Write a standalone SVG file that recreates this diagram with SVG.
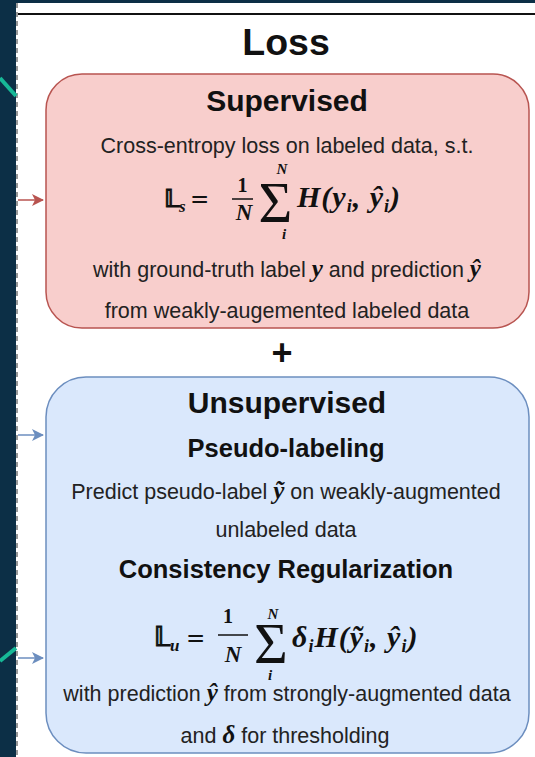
<svg xmlns="http://www.w3.org/2000/svg" width="535" height="757" viewBox="0 0 535 757">
<style>
.t{font-family:"Liberation Sans",Arial,sans-serif;fill:#222;text-anchor:middle;font-size:21.5px}
.b{font-weight:bold;fill:#111}
.m{font-family:"Liberation Serif","Times New Roman",serif;font-style:italic;font-weight:bold;fill:#111}
.r{font-family:"Liberation Serif","Times New Roman",serif;fill:#111}
.bb{font-family:"DejaVu Sans",sans-serif;font-weight:bold;fill:#111;stroke:#111;stroke-width:0.9px}
.eq{font-family:"DejaVu Sans",sans-serif;fill:#111}
.c{text-anchor:middle}
</style>
<defs>
<marker id="ar" markerWidth="12" markerHeight="12" refX="11" refY="6" orient="auto" markerUnits="userSpaceOnUse"><path d="M0,0 L12,6 L0,12 L3,6 Z" fill="#b85450"/></marker>
<marker id="ab" markerWidth="12" markerHeight="12" refX="11" refY="6" orient="auto" markerUnits="userSpaceOnUse"><path d="M0,0 L12,6 L0,12 L3,6 Z" fill="#6c8ebf"/></marker>
</defs>
<rect x="0" y="0" width="535" height="757" fill="#0c2f46"/>
<rect x="16" y="3" width="519" height="754" fill="#ffffff"/>
<line x1="17" y1="14" x2="535" y2="14" stroke="#111" stroke-width="2"/>
<line x1="17" y1="3" x2="17" y2="757" stroke="#999" stroke-width="2" stroke-dasharray="5,4"/>
<g id="connectors">
<line x1="0" y1="78" x2="16" y2="96" stroke="#17b897" stroke-width="4"/>
<line x1="0" y1="661" x2="16" y2="648" stroke="#17b897" stroke-width="4"/>
<line x1="18" y1="200" x2="43" y2="200" stroke="#b85450" stroke-width="1.5" marker-end="url(#ar)"/>
<line x1="18" y1="435" x2="43" y2="435" stroke="#6c8ebf" stroke-width="1.5" marker-end="url(#ab)"/>
<line x1="18" y1="658" x2="43" y2="658" stroke="#6c8ebf" stroke-width="1.5" marker-end="url(#ab)"/>
</g>
<g id="title"><text class="t b" x="286" y="55" style="font-size:37.5px">Loss</text></g>
<g id="supervised">
<rect x="46" y="74" width="483" height="254" rx="36" ry="36" fill="#f8cecc" stroke="#b85450" stroke-width="1.5"/>
<text class="t b" x="287" y="111" style="font-size:30px">Supervised</text>
<text class="t" x="287" y="153">Cross-entropy loss on labeled data, s.t.</text>
<text class="bb" x="164" y="207" font-size="25">𝕃</text>
<text class="m" x="179" y="212" font-size="17">s</text>
<text class="eq" x="190" y="207" font-size="23">=</text>
<text class="r c" x="242.5" y="192" font-size="20" font-weight="bold">1</text>
<line x1="232" y1="199" x2="253" y2="199" stroke="#111" stroke-width="1.5"/>
<text class="m c" x="244" y="220" font-size="23">N</text>
<text class="r c" x="275.5" y="222" font-size="58">Σ</text>
<text class="m c" x="282" y="174" font-size="15">N</text>
<text class="m c" x="284" y="239" font-size="15">i</text>
<text class="m" x="297" y="207" font-size="30" letter-spacing="1">H(y<tspan font-size="18" dy="5">i</tspan><tspan dy="-5">, ŷ</tspan><tspan font-size="18" dy="5">i</tspan><tspan dy="-5">)</tspan></text>
<text class="t" x="287" y="277">with ground-truth label <tspan class="m" font-size="25">y</tspan> and prediction <tspan class="m" font-size="25">ŷ</tspan></text>
<text class="t" x="287" y="318">from weakly-augemented labeled data</text>
</g>
<g id="plus"><text class="t b" x="282" y="365" style="font-size:36px">+</text></g>
<g id="unsupervised">
<rect x="46" y="377" width="483" height="376" rx="40" ry="40" fill="#dae8fc" stroke="#6c8ebf" stroke-width="1.5"/>
<text class="t b" x="287" y="413" style="font-size:30px">Unsupervised</text>
<text class="t b" x="286" y="457" style="font-size:25.5px">Pseudo-labeling</text>
<text class="t" x="286" y="499">Predict pseudo-label <tspan class="m" font-size="25">ỹ</tspan> on weakly-augmented</text>
<text class="t" x="286" y="537">unlabeled data</text>
<text class="t b" x="286" y="578" style="font-size:25.5px">Consistency Regularization</text>
<text class="bb" x="154" y="646" font-size="26">𝕃</text>
<text class="m" x="170" y="651" font-size="17">u</text>
<text class="eq" x="186" y="646" font-size="23">=</text>
<text class="r c" x="228" y="623" font-size="20" font-weight="bold">1</text>
<line x1="218" y1="635" x2="248" y2="635" stroke="#111" stroke-width="1.5"/>
<text class="m c" x="233" y="662" font-size="23">N</text>
<text class="r c" x="271" y="663" font-size="58">Σ</text>
<text class="m c" x="273" y="619" font-size="15">N</text>
<text class="m c" x="270" y="680" font-size="15">i</text>
<text class="m" x="292" y="647" font-size="30" letter-spacing="1">δ<tspan font-size="18" dy="5">i</tspan><tspan dy="-5">H(ỹ</tspan><tspan font-size="18" dy="5">i</tspan><tspan dy="-5">, ŷ</tspan><tspan font-size="18" dy="5">i</tspan><tspan dy="-5">)</tspan></text>
<text class="t" x="287" y="701">with prediction <tspan class="m" font-size="25">ŷ</tspan> from strongly-augmented data</text>
<text class="t" x="285" y="743">and <tspan class="m" font-size="25">δ</tspan> for thresholding</text>
</g>
</svg>
